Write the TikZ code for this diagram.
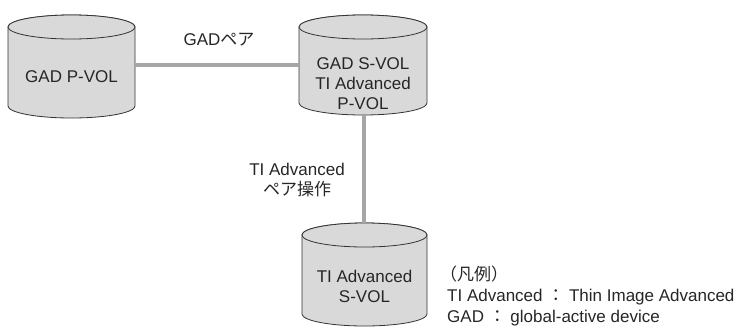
\documentclass[tikz,border=0pt]{standalone}
\usepackage{fontspec}
\setmainfont{Liberation Sans}
\newfontfamily\jpfont{Noto Sans CJK JP}
\definecolor{volfill}{HTML}{D9D9D9}
\definecolor{pairline}{HTML}{A6A6A6}
\tikzset{
  vol/.style={draw=black!80, line width=0.8pt, fill=volfill},
  pair/.style={line width=4pt, pairline},
  lbl/.style={align=center, text=black!85, inner sep=0pt, font=\fontsize{17}{20}\selectfont}
}
% cylinder: centre x, top-ellipse y, bottom-arc y, x radius, y radius
\newcommand{\volcyl}[5]{%
  \filldraw [vol] (#1-#4,#2) -- (#1-#4,#3) arc [start angle=180, end angle=0, x radius=#4, y radius=#5]
    -- (#1+#4,#2) arc [start angle=0, end angle=-180, x radius=#4, y radius=#5] -- cycle;
  \draw [vol] (#1,#2) ellipse [x radius=#4, y radius=#5];
}
\begin{document}
\begin{tikzpicture}[x=1pt, y=-1pt]
\useasboundingbox (0,0) rectangle (741,327);
\volcyl{71.5}{27}{106}{63.5}{12}
\volcyl{363}{27}{103}{64}{12}
\volcyl{364.5}{235}{314}{62.5}{12}
\coordinate (pvolE) at (135,65);
\coordinate (svolW) at (299,65);
\coordinate (svolS) at (364,115);
\coordinate (tivolN) at (364,223);
\draw [pair] (pvolE) -- (svolW);
\draw [pair] (svolS) -- (tivolN);
\node [lbl] (pvol) at (71.5,77) {GAD P-VOL};
\node [lbl] (svol) at (363,84) {GAD S-VOL\\TI Advanced\\P-VOL};
\node [lbl] (tivol) at (364.5,286) {TI Advanced\\S-VOL};
\node [lbl] (gadpair) at (219,40) {GAD{\jpfont ペア}};
\node [lbl] (tipair) at (297,180) {TI Advanced\\{\jpfont ペア操作}};
% legend
\node [lbl, align=left, anchor=west, font=\fontsize{17}{21}\selectfont] (legend) at (447,296)
  {\hspace*{-7pt}{\jpfont （凡例）}\\TI Advanced {\jpfont ：} Thin Image Advanced\\GAD {\jpfont ：} global-active device};
\end{tikzpicture}
\end{document}
